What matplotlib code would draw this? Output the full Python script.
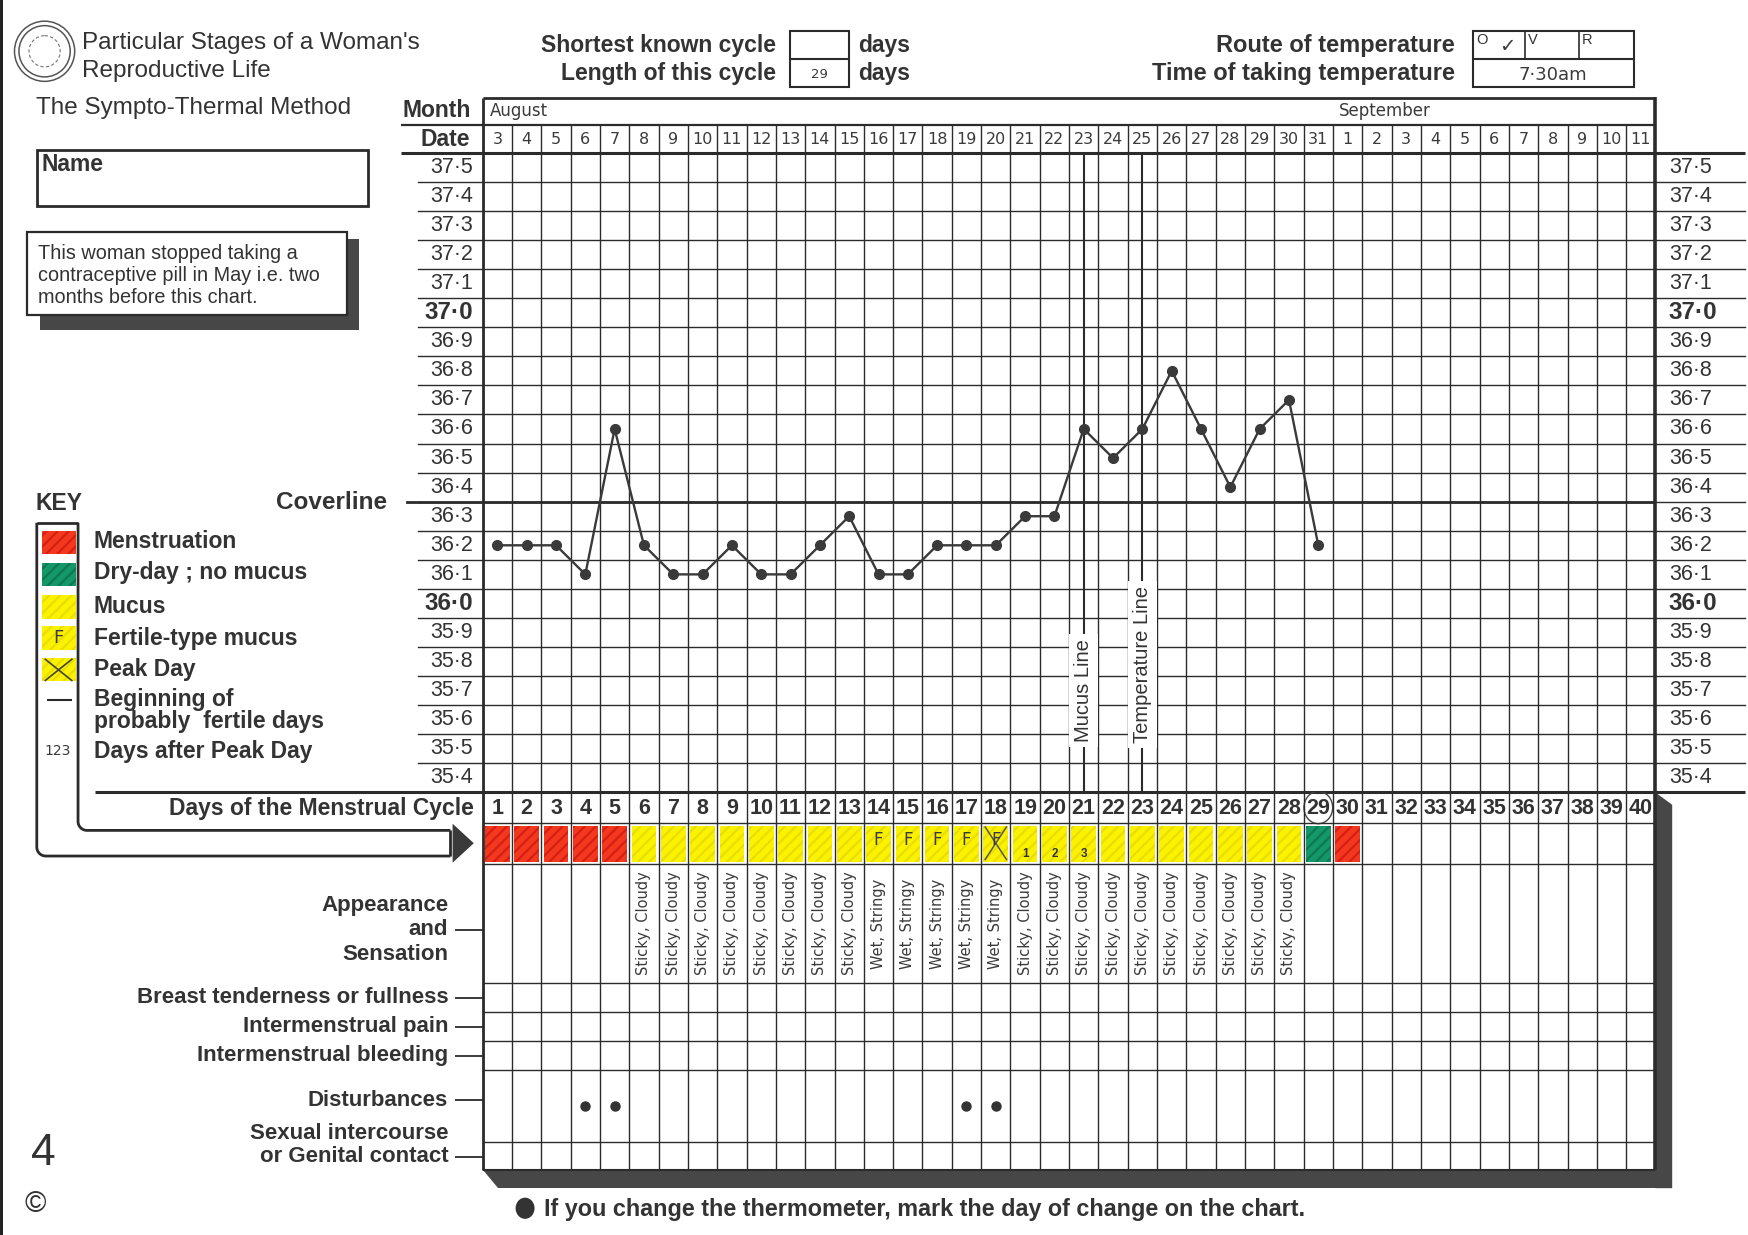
import matplotlib
matplotlib.use("Agg")
import matplotlib.pyplot as plt
import matplotlib.transforms as mtransforms
from matplotlib.patches import Rectangle, Ellipse, Circle, Polygon
import numpy as np

# ---- chart data -----------------------------------------------------------
CYCLE_DAYS = list(range(1, 41))
DATES = list(range(3, 32)) + list(range(1, 12))
MONTHS = [("August", 0.75), ("September", 29.7)]

TEMP_DAYS = list(range(1, 30))
TEMPS = [36.2, 36.2, 36.2, 36.1, 36.6, 36.2, 36.1, 36.1, 36.2, 36.1,
         36.1, 36.2, 36.3, 36.1, 36.1, 36.2, 36.2, 36.2, 36.3, 36.3,
         36.6, 36.5, 36.6, 36.8, 36.6, 36.4, 36.6, 36.7, 36.2]
TEMP_TICKS = [round(37.5 - 0.1 * i, 1) for i in range(22)]
COVERLINE = 36.35
MUCUS_LINE_DAY = 21
TEMP_LINE_DAY = 23

# M = menstruation, Y = mucus, D = dry day
MUCUS_CODES = ["M"] * 5 + ["Y"] * 23 + ["D", "M"]
FERTILE_DAYS = [14, 15, 16, 17]
PEAK_DAY = 18
AFTER_PEAK = [(19, "1"), (20, "2"), (21, "3")]
APPEARANCE = ([""] * 5 + ["Sticky, Cloudy"] * 8 + ["Wet, Stringy"] * 5
              + ["Sticky, Cloudy"] * 10)
DISTURBANCE_DAYS = [4, 5, 17, 18]
CYCLE_LENGTH = 29

SHORTEST_CYCLE = ""
ROUTE = ["O", "V", "R"]
TIME_TAKEN = "7·30am"

# ---- styling --------------------------------------------------------------
W, H = 1568, 1108          # layout units of the form
INK = "#2b2b2b"
TXT = "#333333"
RED, RED_D = "#f4381f", "#d51f12"
YEL, YEL_D = "#fbf200", "#eadd00"
GRN, GRN_D = "#16976a", "#0b7a52"
SHADOW = "#474747"
SANS = "Liberation Sans"
HAND = dict(family=["DejaVu Sans"], color="#3a3a3a")
BOLD = dict(fontweight="bold", color=TXT)

plt.rcParams["font.family"] = [SANS, "DejaVu Sans"]
plt.rcParams["hatch.linewidth"] = 1.6

fig = plt.figure(figsize=(17.48, 12.35), dpi=100)
bg = fig.add_axes([0, 0, 1, 1])
bg.set_xlim(0, W)
bg.set_ylim(H, 0)
bg.axis("off")


def place(x0, y0, x1, y1):
    ax = fig.add_axes([x0 / W, 1 - y1 / H, (x1 - x0) / W, (y1 - y0) / H])
    ax.set_facecolor("none")
    ax.axis("off")
    return ax


def bline(xs, ys, lw=1.5, color=INK):
    bg.plot(xs, ys, color=color, lw=lw, solid_capstyle="butt")


GX0, GX1 = 433, 1485
Y_MONTH, Y_DATE, Y_TEMP, Y_CYC = 88, 112, 137, 711
ROW_EDGES = [711, 738, 775, 882, 908, 934, 960, 1025, 1050]
col_edges = np.arange(0.5, 41.0, 1.0)

# ---- page edge and title block ----------------------------------------------
bg.add_patch(Rectangle((0, 0), 3, H, color="#222", lw=0))
for r in (27, 23):
    bg.add_patch(Circle((40, 46), r, fill=False, ec="#555", lw=1.1))
bg.add_patch(Circle((40, 46), 14, fill=False, ec="#777", lw=0.8, ls=(0, (3, 2))))
bg.text(74, 39, "Particular Stages of a Woman's", fontsize=17.5, color=TXT, va="center")
bg.text(74, 64, "Reproductive Life", fontsize=17.5, color=TXT, va="center")
bg.text(32, 97, "The Sympto-Thermal Method", fontsize=17.5, color=TXT, va="center")

bg.add_patch(Rectangle((33, 135), 297, 50, fill=False, ec=INK, lw=2))
bg.text(37, 148, "Name", fontsize=16.5, va="center", **BOLD)

bg.add_patch(Rectangle((36, 214), 286, 82, color=SHADOW, lw=0))
bg.add_patch(Rectangle((24, 208), 287, 75, fc="white", ec=INK, lw=1.6))
for i, line in enumerate(["This woman stopped taking a",
                          "contraceptive pill in May i.e. two",
                          "months before this chart."]):
    bg.text(34, 227 + i * 20, line, fontsize=14.3, color=TXT, va="center")

# cycle length boxes
for lab, y in (("Shortest known cycle", 41), ("Length of this cycle", 66)):
    bg.text(696, y, lab, fontsize=16.5, ha="right", va="center", **BOLD)
    bg.text(770, y, "days", fontsize=16.5, va="center", **BOLD)
bg.add_patch(Rectangle((709, 28), 53, 50, fill=False, ec=INK, lw=1.5))
bline([709, 762], [53, 53])
bg.text(735, 41, SHORTEST_CYCLE, fontsize=10, ha="center", va="center", **HAND)
bg.text(735, 67, str(CYCLE_LENGTH), fontsize=9.5, ha="center", va="center", **HAND)

for lab, y in (("Route of temperature", 41), ("Time of taking temperature", 66)):
    bg.text(1305, y, lab, fontsize=17, ha="right", va="center", **BOLD)
bg.add_patch(Rectangle((1321, 28), 145, 50, fill=False, ec=INK, lw=1.5))
bline([1321, 1466], [53, 53])
for x in (1368, 1416):
    bline([x, x], [28, 53], lw=1.2)
for x, lab in zip((1324, 1371, 1419), ROUTE):
    bg.text(x, 36, lab, fontsize=10.5, color=TXT, va="center")
bg.text(1352, 42, "✓", fontsize=14, ha="center", va="center", **HAND)
bg.text(1393, 67, TIME_TAKEN, fontsize=13, ha="center", va="center", **HAND)

# ---- header rows: month and date -------------------------------------------
ax_h = place(GX0, Y_MONTH, GX1, Y_TEMP)
ax_h.set_xlim(0.5, 40.5)
ax_h.set_ylim(Y_TEMP, Y_MONTH)
ax_h.vlines(col_edges, Y_DATE, Y_TEMP, color=INK, lw=1.0)
for name, start in MONTHS:
    ax_h.text(start, 100, name, fontsize=12, va="center", **HAND)
for d, date in zip(CYCLE_DAYS, DATES):
    ax_h.text(d, 125, str(date), fontsize=11.5, ha="center", va="center", **HAND)
bg.text(422, 99, "Month", fontsize=16.5, ha="right", va="center", **BOLD)
bg.text(422, 125, "Date", fontsize=16.5, ha="right", va="center", **BOLD)

# ---- temperature grid ------------------------------------------------------
ax_t = place(GX0, Y_TEMP, GX1, Y_CYC)
ax_t.set_xlim(0.5, 40.5)
ax_t.set_ylim(35.35, 37.55)
blend = mtransforms.blended_transform_factory(bg.transData, ax_t.transData)

ax_t.vlines(col_edges, 35.35, 37.55, color=INK, lw=1.0)
row_lines = np.round(np.arange(35.45, 37.5, 0.1), 2)
ax_t.hlines(row_lines, 0.5, 40.5, color=INK, lw=1.0)
for y in row_lines:
    ax_t.plot([375, GX0], [y, y], color=INK, lw=1.0, transform=blend, clip_on=False)
    ax_t.plot([GX1, 1565], [y, y], color=INK, lw=1.0, transform=blend, clip_on=False)

for t in TEMP_TICKS:
    lab = f"{t:.1f}".replace(".", "·")
    bold = abs(t - round(t)) < 1e-6
    kw = dict(fontsize=17.5 if bold else 15.5, fontweight="bold" if bold else "normal",
              color=TXT, va="center", transform=blend)
    ax_t.text(424, t, lab, ha="right", **kw)
    ax_t.text(1497, t, lab, ha="left", **kw)

# coverline
ax_t.hlines(COVERLINE, 0.5, 40.5, color=INK, lw=2.0)
ax_t.plot([365, GX0], [COVERLINE, COVERLINE], color=INK, lw=2.0, transform=blend, clip_on=False)

# mucus and temperature lines
for day, lab, ypos in ((MUCUS_LINE_DAY, "Mucus Line", 35.70),
                       (TEMP_LINE_DAY, "Temperature Line", 35.79)):
    ax_t.vlines(day, 35.35, 37.55, color=INK, lw=1.5)
    ax_t.text(day, ypos, lab, rotation=90, fontsize=14.5, color=TXT, ha="center", va="center",
              bbox=dict(fc="white", ec="none", pad=3.5), zorder=4)

ax_t.plot(TEMP_DAYS, TEMPS, "-o", color="#3a3a3a", lw=1.7, ms=7, zorder=6)

# ---- observation rows --------------------------------------------------------
ax_b = place(GX0, Y_CYC, GX1, ROW_EDGES[-1])
ax_b.set_xlim(0.5, 40.5)
ax_b.set_ylim(ROW_EDGES[-1], Y_CYC)
ax_b.vlines(col_edges, Y_CYC, ROW_EDGES[-1], color=INK, lw=1.0)
ax_b.hlines(ROW_EDGES[1:-1], 0.5, 40.5, color=INK, lw=1.0)

num_y = (ROW_EDGES[0] + ROW_EDGES[1]) / 2
for d in CYCLE_DAYS:
    ax_b.text(d, num_y + 1, str(d), fontsize=15.5, ha="center", va="center", **BOLD)
ax_b.add_patch(Ellipse((CYCLE_LENGTH, num_y), 0.98, 29, fill=False, ec="#444", lw=1.0))

sw_top, sw_bot = ROW_EDGES[1] + 3, ROW_EDGES[2] - 2
colour_of = {"M": (RED, RED_D), "Y": (YEL, YEL_D), "D": (GRN, GRN_D)}
for d, code in enumerate(MUCUS_CODES, start=1):
    fc, hc = colour_of[code]
    ax_b.add_patch(Rectangle((d - 0.42, sw_top), 0.84, sw_bot - sw_top,
                             fc=fc, ec=hc, lw=0, hatch="///"))
sw_mid = (sw_top + sw_bot) / 2
for d in FERTILE_DAYS + [PEAK_DAY]:
    ax_b.text(d, sw_mid - 3, "F", fontsize=12, ha="center", va="center", **HAND)
ax_b.plot([PEAK_DAY - 0.36, PEAK_DAY + 0.36], [sw_top + 1, sw_bot - 2], color="#555", lw=1.1)
ax_b.plot([PEAK_DAY - 0.36, PEAK_DAY + 0.36], [sw_bot - 2, sw_top + 1], color="#555", lw=1.1)
for d, n in AFTER_PEAK:
    ax_b.text(d, sw_bot - 7, n, fontsize=8.5, ha="center", va="center", **BOLD)

app_mid = (ROW_EDGES[2] + ROW_EDGES[3]) / 2
for d, txt in zip(CYCLE_DAYS, APPEARANCE):
    if txt:
        ax_b.text(d, app_mid, txt, rotation=90, fontsize=10.5, ha="center", va="center", **HAND)

dist_mid = (ROW_EDGES[6] + ROW_EDGES[7]) / 2
ax_b.plot(DISTURBANCE_DAYS, [dist_mid] * len(DISTURBANCE_DAYS), "o",
          color="#333", ms=6.5, zorder=5)

row_labels = [(["Appearance", "and", "Sensation"], 834, 22),
              (["Breast tenderness or fullness"], 895, 0),
              (["Intermenstrual pain"], 921, 0),
              (["Intermenstrual bleeding"], 947, 0),
              (["Disturbances"], 987, 0),
              (["Sexual intercourse", "or Genital contact"], 1038, 21)]
for lines, tick_y, step in row_labels:
    n = len(lines)
    for i, line in enumerate(lines):
        y = tick_y - (n - 1 - i) * step if n != 3 else tick_y + (i - 1) * step
        bg.text(402, y, line, fontsize=16, ha="right", va="center", **BOLD)
    bline([408, GX0], [tick_y, tick_y], lw=1.3)

# ---- borders and shadows -----------------------------------------------------
bg.add_patch(Polygon([(GX0, 1050), (1500, 1050), (1500, 1066), (447, 1066)],
                     color=SHADOW, lw=0))
bg.add_patch(Polygon([(GX1, Y_CYC), (1500, 722), (1500, 1066), (GX1, 1066)],
                     color=SHADOW, lw=0))
bline([GX0, GX1], [Y_MONTH, Y_MONTH], lw=2.0)
bline([GX0, GX0], [Y_MONTH, 1050], lw=2.0)
bline([GX1, GX1], [Y_MONTH - 1, 1050], lw=2.6)
bline([360, GX1], [Y_DATE, Y_DATE], lw=1.6)
bline([360, 1565], [Y_TEMP, Y_TEMP], lw=2.2)
bline([85, 1565], [Y_CYC, Y_CYC], lw=2.2)
bline([GX0, GX1], [1050, 1050], lw=1.5)

# ---- key -----------------------------------------------------------------------
bg.text(32, 452, "KEY", fontsize=16.5, va="center", **BOLD)
bg.text(248, 451, "Coverline", fontsize=17.5, va="center", **BOLD)


def bracket(x, y_top, y_bot, x_end, r=8):
    ang = np.linspace(np.pi, np.pi / 2, 12)
    xs = np.concatenate([[x], x + r + r * np.cos(ang), [x_end]])
    ys = np.concatenate([[y_top], y_bot - r + r * np.sin(ang), [y_bot]])
    return xs, ys


for xk, yb in ((33, 768), (70, 745)):
    xs, ys = bracket(xk, 469, yb, 404)
    bline(xs, ys, lw=2.0)
bline([33, 70], [469, 469], lw=2.0)
bline([404, 404], [745, 768], lw=2.0)
bg.add_patch(Polygon([(406, 739), (406, 774), (425, 756.5)], color="#3a3a3a", lw=0))

key_swatches = [((RED, RED_D), 476), ((GRN, GRN_D), 505), ((YEL, YEL_D), 534),
                ((YEL, YEL_D), 562), ((YEL, YEL_D), 590)]
for (fc, hc), y in key_swatches:
    bg.add_patch(Rectangle((38, y), 30, 21, fc=fc, ec=hc, lw=0, hatch="///"))
bg.text(52, 572, "F", fontsize=13, ha="center", va="center", **HAND)
bline([40, 65], [591, 611], lw=1.2, color="#444")
bline([40, 65], [611, 591], lw=1.2, color="#444")
bline([42, 65], [628, 628], lw=1.5)
bg.text(52, 674, "123", fontsize=10, ha="center", va="center", **HAND)

key_labels = [("Menstruation", 486), ("Dry-day ; no mucus", 514), ("Mucus", 544),
              ("Fertile-type mucus", 573), ("Peak Day", 601), ("Beginning of", 628),
              ("probably  fertile days", 647), ("Days after Peak Day", 674)]
for lab, y in key_labels:
    bg.text(84, y, lab, fontsize=16.5, va="center", **BOLD)

bg.text(425, 725, "Days of the Menstrual Cycle", fontsize=16.5, ha="right", va="center", **BOLD)

# ---- footer ----------------------------------------------------------------------
bg.add_patch(Ellipse((471, 1084), 17, 19, color="#333", lw=0))
bg.text(488, 1085, "If you change the thermometer, mark the day of change on the chart.",
        fontsize=16.8, va="center", **BOLD)
bg.text(28, 1035, "4", fontsize=32, color=TXT, va="center")
bg.text(22, 1080, "©", fontsize=21, color=TXT, va="center")

fig.savefig("out.png", dpi=100, facecolor="white")
